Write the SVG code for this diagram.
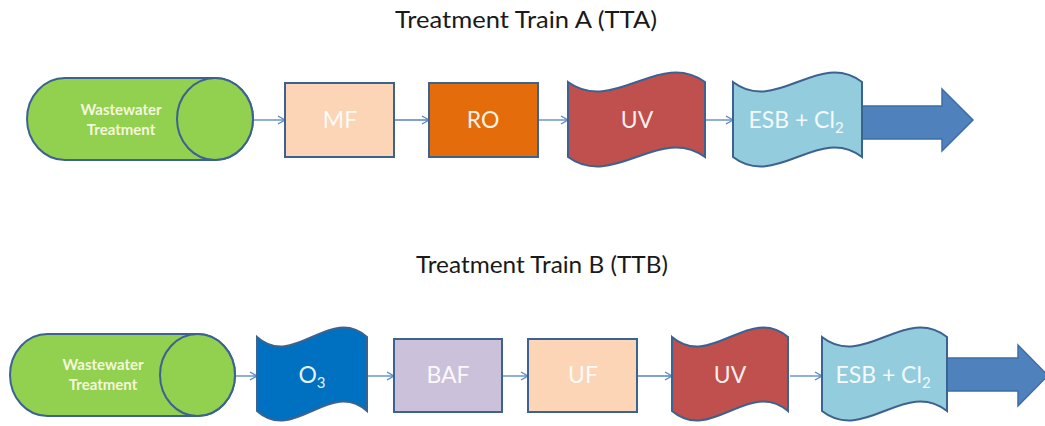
<svg xmlns="http://www.w3.org/2000/svg" width="1045" height="426" viewBox="0 0 1045 426">
<style>
.title{font-family:Lato,"Liberation Sans",sans-serif;font-size:24px;fill:#1a1a1a;text-anchor:middle}
.lbl{font-family:Lato,"Liberation Sans",sans-serif;font-size:23px;fill:#ffffff;fill-opacity:0.92;text-anchor:middle}
.ww{font-family:Lato,"Liberation Sans",sans-serif;font-size:15px;font-weight:bold;fill:#f4f7da;text-anchor:middle}
.shape{stroke:#3b6290;stroke-width:2}
.con{stroke:#5585c0;stroke-width:1.3;fill:none;marker-end:url(#ah)}
.big{fill:#4f81bd;stroke:#3d6da5;stroke-width:1.5}
</style>
<defs>
<marker id="ah" markerWidth="10" markerHeight="10" refX="8" refY="5" orient="auto" markerUnits="userSpaceOnUse">
<path d="M1,1 L8,5 L1,9" fill="none" stroke="#5585c0" stroke-width="1.3"/>
</marker>
</defs>
<rect width="1045" height="426" fill="#ffffff"/>
<text class="title" x="526" y="28" textLength="262" lengthAdjust="spacingAndGlyphs">Treatment Train A (TTA)</text>
<text class="title" x="542" y="273" textLength="252" lengthAdjust="spacingAndGlyphs">Treatment Train B (TTB)</text>

<g id="connectors">
<line class="con" x1="253" y1="120" x2="285" y2="120"/>
<line class="con" x1="394" y1="120" x2="429" y2="120"/>
<line class="con" x1="538" y1="120" x2="568" y2="120"/>
<line class="con" x1="705" y1="120" x2="733" y2="120"/>
<line class="con" x1="235" y1="376" x2="257" y2="376"/>
<line class="con" x1="367" y1="376" x2="394" y2="376"/>
<line class="con" x1="502" y1="376" x2="528" y2="376"/>
<line class="con" x1="637" y1="376" x2="672" y2="376"/>
<line class="con" x1="790" y1="376" x2="822" y2="376"/>
</g>

<g id="outA">
<path class="big" d="M855,106 L942,106 L942,89 L973,120 L942,151 L942,139 L855,139 Z"/>
</g>
<g id="outB">
<path class="big" d="M940,358 L1018,358 L1018,345 L1048,375.5 L1018,406 L1018,391 L940,391 Z"/>
</g>

<g id="wwA">
<path class="shape" fill="#92d050" d="M65,78 L215,78 A38,41 0 0,1 215,160 L65,160 A38,41 0 0,1 65,78 Z"/>
<ellipse class="shape" fill="#92d050" cx="215" cy="119" rx="38" ry="41"/>
<text class="ww" x="121" y="115">Wastewater</text>
<text class="ww" x="121" y="135">Treatment</text>
</g>
<g id="mf">
<rect class="shape" fill="#fbd5b5" x="285" y="83" width="109" height="74"/>
<text class="lbl" x="340" y="128">MF</text>
</g>
<g id="ro">
<rect class="shape" fill="#e46c0a" x="429" y="83" width="109" height="74"/>
<text class="lbl" x="483" y="128">RO</text>
</g>
<g id="uvA">
<path class="shape" fill="#c0504d" d="M568,82 C613.7,115 659.3,49 705,82 L705,157 C659.3,124 613.7,190 568,157 Z"/>
<text class="lbl" x="637" y="128">UV</text>
</g>
<g id="esbA">
<path class="shape" fill="#93cddd" d="M733,82 C776,115 819,49 862,82 L862,157 C819,124 776,190 733,157 Z"/>
<text class="lbl" x="796" y="128">ESB + Cl<tspan font-size="15" dy="5">2</tspan></text>
</g>

<g id="wwB">
<path class="shape" fill="#92d050" d="M47.5,334 L197.5,334 A37.5,41 0 0,1 197.5,416 L47.5,416 A37.5,41 0 0,1 47.5,334 Z"/>
<ellipse class="shape" fill="#92d050" cx="197.5" cy="375" rx="37.5" ry="41"/>
<text class="ww" x="103" y="370">Wastewater</text>
<text class="ww" x="103" y="390">Treatment</text>
</g>
<g id="o3">
<path class="shape" fill="#0070c0" d="M257,337 C293.7,370 330.3,304 367,337 L367,411 C330.3,378 293.7,444 257,411 Z"/>
<text class="lbl" x="312" y="383">O<tspan font-size="15" dy="5">3</tspan></text>
</g>
<g id="baf">
<rect class="shape" fill="#ccc1da" x="394" y="339" width="108" height="73"/>
<text class="lbl" x="448" y="383">BAF</text>
</g>
<g id="uf">
<rect class="shape" fill="#fbd5b5" x="528" y="339" width="109" height="73"/>
<text class="lbl" x="583" y="383">UF</text>
</g>
<g id="uvB">
<path class="shape" fill="#c0504d" d="M672,337 C710.7,370 749.3,304 788,337 L788,411 C749.3,378 710.7,444 672,411 Z"/>
<text class="lbl" x="730" y="383">UV</text>
</g>
<g id="esbB">
<path class="shape" fill="#93cddd" d="M822,337 C863.7,370 905.3,304 947,337 L947,411 C905.3,378 863.7,444 822,411 Z"/>
<text class="lbl" x="883" y="383">ESB + Cl<tspan font-size="15" dy="5">2</tspan></text>
</g>
</svg>
